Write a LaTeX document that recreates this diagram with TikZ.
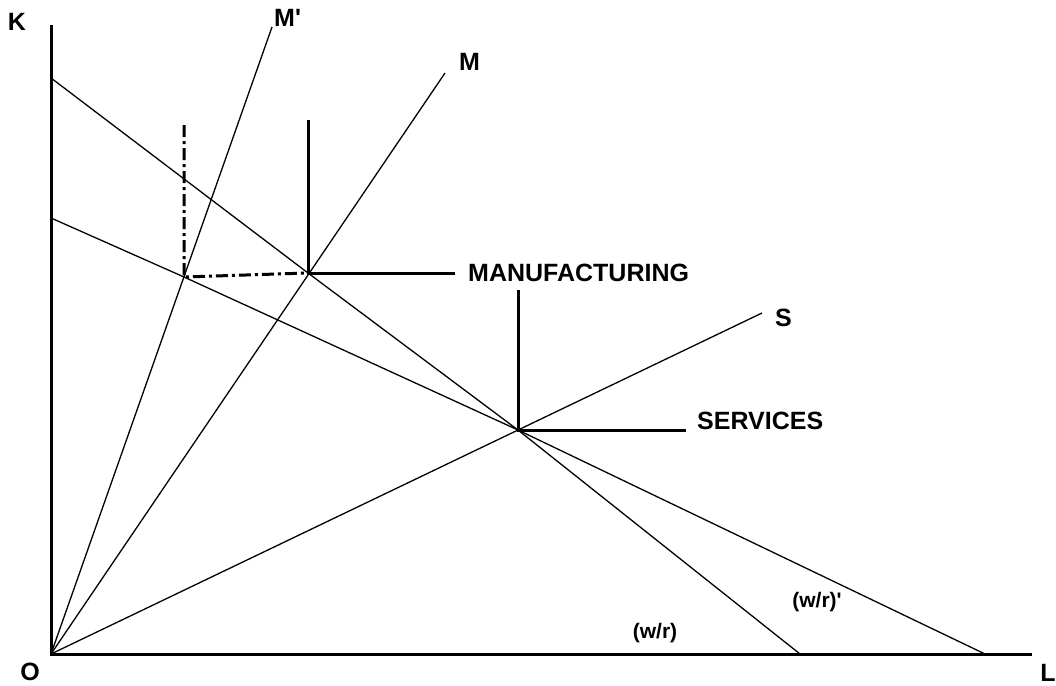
\documentclass[tikz,border=0pt]{standalone}
\usepackage{fontspec}
\setmainfont{Liberation Sans}
\newfontfamily\lblfont{Liberation Sans}
\begin{document}
\begin{tikzpicture}[x=1pt,y=-1pt,
  axis/.style={line width=3pt},
  ray/.style={line width=1.3pt},
  cost/.style={line width=1.3pt},
  isoq/.style={line width=3pt},
  isoqd/.style={line width=3pt, dash pattern=on 12pt off 4pt on 3pt off 4pt},
  lbl/.style={inner sep=0pt, font=\lblfont\bfseries\fontsize{25}{28}\selectfont},
  slbl/.style={inner sep=0pt, font=\lblfont\bfseries\fontsize{21}{24}\selectfont}]
\useasboundingbox (0,0) rectangle (1056,685);
% points
\coordinate (O) at (51,654);
\coordinate (Ktop) at (51,25);
\coordinate (Lend) at (1032,654);
\coordinate (Mp) at (272,27);
\coordinate (Mend) at (445,73);
\coordinate (Send) at (762,313);
\coordinate (A1) at (51,78);
\coordinate (A2) at (800,654);
\coordinate (B1) at (51,218);
\coordinate (B2) at (985,654);
\coordinate (PM) at (308,273);
\coordinate (PS) at (518,430);
\coordinate (PMp) at (184,277);
% axes
\draw[axis] (Ktop) -- (O) -- (Lend);
% rays
\draw[ray] (O) -- (Mp);
\draw[ray] (O) -- (Mend);
\draw[ray] (O) -- (Send);
% isocost lines
\draw[cost] (A1) -- (PM) -- (PS) -- (A2);
\draw[cost] (B1) -- (PMp) -- (PS) -- (B2);
% isoquants
\draw[isoq] (308,120) -- (PM) -- (455,273);
\draw[isoq] (518,290) -- (PS) -- (686,430);
\draw[isoqd] (184,125) -- (PMp) -- (PM);
% labels
\node[lbl] (lK) at (17,22) {K};
\node[lbl] (lO) at (30,672) {O};
\node[lbl] (lL) at (1048,673) {L};
\node[lbl, anchor=west] (lMp) at (274,18) {M'};
\node[lbl, anchor=west] (lM) at (459,62) {M};
\node[lbl, anchor=west] (lS) at (775,318) {S};
\node[lbl, anchor=west] (lMan) at (468,273) {MANUFACTURING};
\node[lbl, anchor=west] (lSer) at (697,421) {SERVICES};
\node[slbl] (lwr) at (655,633) {(w/r)};
\node[slbl] (lwrp) at (817,602) {(w/r)'};
\end{tikzpicture}
\end{document}
